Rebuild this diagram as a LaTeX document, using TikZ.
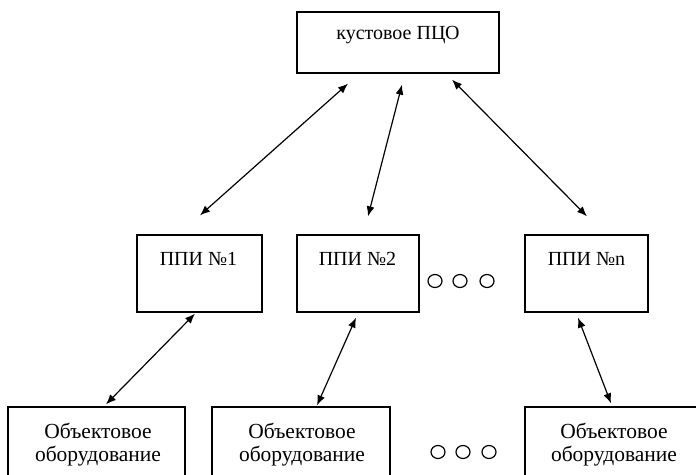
\documentclass[tikz,border=0pt]{standalone}
\usepackage{fontspec}
\setmainfont{Liberation Serif}
\usepackage{tikz}
\usetikzlibrary{arrows.meta,calc,shapes.geometric}
\tikzstyle{box}=[rectangle,draw,line width=1.3pt,fill=white,inner sep=0pt]
\tikzstyle{lbl}=[anchor=base,inner sep=0pt,font=\fontsize{20}{23}\selectfont]
\tikzstyle{lblB}=[anchor=base,inner sep=0pt,font=\fontsize{21.5}{23}\selectfont]
\tikzstyle{dot}=[ellipse,draw,line width=1.2pt,minimum width=14pt,minimum height=13pt,inner sep=0pt]
\tikzstyle{link}=[{Latex[length=10pt,width=8pt]}-{Latex[length=10pt,width=8pt]},line width=1.2pt]

\begin{document}
\begin{tikzpicture}[x=1pt,y=-1pt]
  \useasboundingbox (0,0) rectangle (696,474);
  \node[box,minimum width=202pt,minimum height=61pt] (pco) at (398,42.5) {};
  \node[lbl] (pcot) at (398,39) {кустовое ПЦО};

  \node[box,minimum width=125pt,minimum height=77pt] (p1) at (199.5,273.5) {};
  \node[box,minimum width=122pt,minimum height=77pt] (p2) at (358,273.5) {};
  \node[box,minimum width=123pt,minimum height=77pt] (pn) at (586.5,273.5) {};
  \node[lbl] (p1t) at (198.5,265) {ППИ №1};
  \node[lbl] (p2t) at (357.5,265) {ППИ №2};
  \node[lbl] (pnt) at (586.5,265) {ППИ №n};
  \node[dot] (d1) at (435,281) {};
  \node[dot] (d2) at (460,281) {};
  \node[dot] (d3) at (487,281) {};

  \node[box,minimum width=177pt,minimum height=78pt] (o1) at (96.5,446) {};
  \node[box,minimum width=178pt,minimum height=78pt] (o2) at (301,446) {};
  \node[box,minimum width=178pt,minimum height=78pt] (o3) at (614,446) {};
  \node[lblB] (o1t) at (98,438) {Объектовое};
  \node[lblB] (o1b) at (98,461) {оборудование};
  \node[lblB] (o2t) at (302,438) {Объектовое};
  \node[lblB] (o2b) at (302,461) {оборудование};
  \node[lblB] (o3t) at (614,438) {Объектовое};
  \node[lblB] (o3b) at (614,461) {оборудование};
  \node[dot] (e1) at (438,452) {};
  \node[dot] (e2) at (463,452) {};
  \node[dot] (e3) at (489,452) {};

  \draw[link] ($(pco.south)+(-50,10)$)--($(p1.north)+(0.5,-19)$);
  \draw[link] ($(pco.south)+(4,11)$)--($(p2.north)+(10,-18)$);
  \draw[link] ($(pco.south)+(54,6)$)--($(pn.north)+(0.5,-18)$);
  \draw[link] ($(p1.south)+(-4.5,1)$)--($(o1.north)+(9.5,-2)$);
  \draw[link] ($(p2.south)+(-2,5)$)--($(o2.north)+(16,-1)$);
  \draw[link] ($(pn.south)+(-8.5,5)$)--($(o3.north)+(-3,-3)$);
\end{tikzpicture}
\end{document}
